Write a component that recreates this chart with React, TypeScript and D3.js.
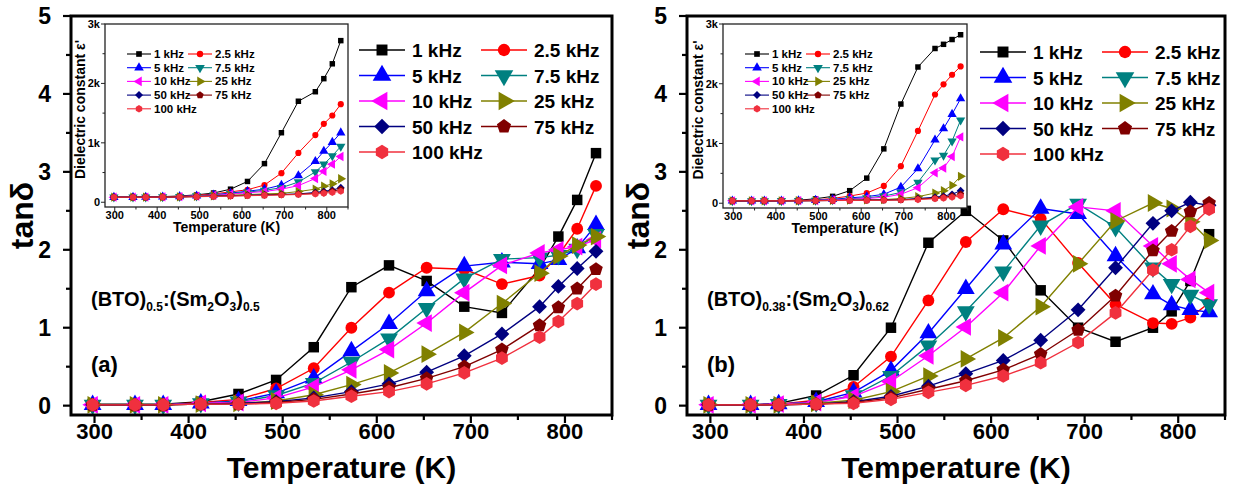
import * as d3 from 'd3';

const temperature = [298, 343, 373, 413, 453, 493, 533, 573, 613, 653, 693, 733, 773, 793, 813, 833];
const frequencies = ['1 kHz', '2.5 kHz', '5 kHz', '7.5 kHz', '10 kHz', '25 kHz', '50 kHz', '75 kHz', '100 kHz'];
const seriesColors = ['#000000', '#ff0000', '#0000ff', '#008080', '#ff00ff', '#808000', '#000080', '#800000', '#f0303e'];

// tan delta, panel (a), one row per frequency
const lossA = [
  [0.02, 0.02, 0.02, 0.05, 0.15, 0.33, 0.75, 1.52, 1.8, 1.6, 1.27, 1.19, 1.76, 2.17, 2.64, 3.24],
  [0.01, 0.01, 0.01, 0.04, 0.08, 0.22, 0.48, 1.0, 1.45, 1.77, 1.75, 1.56, 1.67, 1.93, 2.27, 2.82],
  [0.01, 0.01, 0.01, 0.03, 0.06, 0.16, 0.35, 0.7, 1.05, 1.47, 1.79, 1.84, 1.82, 1.87, 2.02, 2.32],
  [0.01, 0.01, 0.01, 0.03, 0.05, 0.13, 0.29, 0.56, 0.86, 1.25, 1.63, 1.88, 1.9, 1.93, 2.01, 2.2],
  [0.01, 0.01, 0.01, 0.03, 0.04, 0.1, 0.24, 0.46, 0.72, 1.06, 1.45, 1.8, 1.96, 2.0, 2.04, 2.13],
  [0.01, 0.01, 0.01, 0.02, 0.03, 0.06, 0.14, 0.27, 0.42, 0.66, 0.94, 1.31, 1.7, 1.92, 2.06, 2.17],
  [0.01, 0.01, 0.01, 0.02, 0.03, 0.05, 0.1, 0.18, 0.28, 0.43, 0.64, 0.92, 1.27, 1.53, 1.76, 1.98],
  [0.01, 0.01, 0.01, 0.02, 0.02, 0.04, 0.08, 0.15, 0.23, 0.35, 0.5, 0.72, 1.03, 1.26, 1.5, 1.75],
  [0.01, 0.01, 0.01, 0.02, 0.02, 0.03, 0.06, 0.12, 0.18, 0.28, 0.42, 0.61, 0.88, 1.08, 1.31, 1.56],
];

// tan delta, panel (b)
const lossB = [
  [0.01, 0.01, 0.03, 0.13, 0.39, 1.0, 2.09, 2.5, 2.12, 1.48, 1.0, 0.82, 1.0, 1.21, 1.6, 2.2],
  [0.01, 0.01, 0.02, 0.07, 0.24, 0.63, 1.35, 2.1, 2.52, 2.4, 1.83, 1.3, 1.06, 1.05, 1.13, 1.32],
  [0.01, 0.01, 0.02, 0.05, 0.17, 0.45, 0.93, 1.5, 2.07, 2.53, 2.46, 1.92, 1.43, 1.29, 1.23, 1.2],
  [0.01, 0.01, 0.02, 0.04, 0.13, 0.38, 0.77, 1.21, 1.72, 2.31, 2.59, 2.29, 1.77, 1.56, 1.42, 1.3],
  [0.01, 0.01, 0.02, 0.04, 0.12, 0.31, 0.64, 1.01, 1.45, 2.05, 2.55, 2.5, 2.05, 1.82, 1.62, 1.45],
  [0.01, 0.01, 0.01, 0.03, 0.07, 0.18, 0.38, 0.6, 0.87, 1.27, 1.82, 2.37, 2.6, 2.53, 2.36, 2.12],
  [0.01, 0.01, 0.01, 0.02, 0.05, 0.12, 0.25, 0.41, 0.58, 0.84, 1.23, 1.77, 2.34, 2.5, 2.61, 2.57],
  [0.01, 0.01, 0.01, 0.02, 0.04, 0.1, 0.21, 0.32, 0.46, 0.66, 0.97, 1.41, 1.99, 2.24, 2.49, 2.6],
  [0.01, 0.01, 0.01, 0.02, 0.03, 0.08, 0.17, 0.26, 0.38, 0.55, 0.81, 1.19, 1.74, 2.0, 2.3, 2.52],
];

// dielectric constant (inset), panel (a)
const epsA = [
  [85, 85, 88, 95, 105, 125, 155, 220, 350, 650, 1170, 1700, 1860, 2080, 2330, 2720],
  [85, 85, 87, 92, 100, 115, 140, 175, 210, 290, 490, 830, 1130, 1320, 1460, 1650],
  [85, 85, 86, 90, 97, 108, 125, 155, 185, 220, 290, 450, 690, 860, 1010, 1170],
  [85, 85, 86, 89, 95, 105, 120, 145, 170, 200, 245, 340, 510, 640, 780, 940],
  [85, 85, 86, 89, 94, 103, 115, 135, 160, 180, 220, 280, 400, 520, 640, 770],
  [85, 85, 85, 88, 92, 100, 108, 118, 130, 140, 150, 180, 220, 270, 310, 395],
  [85, 85, 85, 87, 90, 96, 102, 110, 118, 125, 132, 140, 165, 185, 205, 245],
  [85, 85, 85, 87, 90, 95, 100, 107, 113, 120, 128, 135, 150, 165, 185, 215],
  [85, 85, 85, 86, 89, 93, 98, 104, 110, 116, 122, 130, 140, 150, 165, 185],
];

// dielectric constant (inset), panel (b)
const epsB = [
  [40, 40, 40, 42, 50, 75, 115, 210, 420, 910, 1660, 2280, 2590, 2660, 2740, 2820],
  [40, 40, 40, 41, 46, 55, 80, 120, 170, 290, 620, 1210, 1820, 1990, 2150, 2290],
  [40, 40, 40, 41, 44, 50, 65, 90, 110, 150, 270, 580, 1060, 1250, 1490, 1750],
  [40, 40, 40, 41, 43, 48, 58, 75, 90, 120, 180, 350, 720, 800, 1040, 1390],
  [40, 40, 40, 40, 42, 46, 55, 68, 80, 100, 150, 260, 510, 590, 780, 1110],
  [40, 40, 40, 40, 41, 44, 48, 52, 56, 60, 80, 110, 170, 210, 300, 450],
  [40, 40, 40, 40, 41, 43, 46, 49, 52, 55, 60, 80, 100, 120, 150, 210],
  [40, 40, 40, 40, 41, 42, 45, 48, 50, 52, 56, 70, 85, 100, 120, 150],
  [40, 40, 40, 40, 40, 42, 44, 46, 48, 50, 53, 60, 75, 85, 100, 120],
];

const xTicks = [300, 400, 500, 600, 700, 800];
const xMinor = d3.range(300, 851, 50);
const yTicks = [0, 1, 2, 3, 4, 5];
const yMinor = d3.range(0, 5.01, 0.5);
const epsTicks = [0, 1000, 2000, 3000];
const epsTickLabels = ['0', '1k', '2k', '3k'];
const epsMinor = d3.range(0, 3001, 500);

const FONT = '"Liberation Sans", Arial, sans-serif';

const polygon = (n: number) => ({
  draw(ctx: any, size: number) {
    const r = Math.sqrt((2 * size) / (n * Math.sin((2 * Math.PI) / n)));
    for (let i = 0; i < n; i++) {
      const a = (i * 2 * Math.PI) / n;
      const x = r * Math.sin(a);
      const y = -r * Math.cos(a);
      if (i) ctx.lineTo(x, y);
      else ctx.moveTo(x, y);
    }
    ctx.closePath();
  },
});

const markers = [
  { type: d3.symbolSquare, rot: 0, k: 1 },
  { type: d3.symbolCircle, rot: 0, k: 1 },
  { type: d3.symbolTriangle, rot: 0, k: 1.25 },
  { type: d3.symbolTriangle, rot: 180, k: 1.25 },
  { type: d3.symbolTriangle, rot: -90, k: 1.25 },
  { type: d3.symbolTriangle, rot: 90, k: 1.25 },
  { type: d3.symbolSquare, rot: 45, k: 1 },
  { type: polygon(5), rot: 0, k: 1.1 },
  { type: polygon(6), rot: 0, k: 1.1 },
];

function Marker({ i, x, y, size }: { i: number; x: number; y: number; size: number }) {
  const m = markers[i];
  const d = d3.symbol().type(m.type as any).size(size * m.k)() as string;
  return <path d={d} transform={`translate(${x},${y}) rotate(${m.rot})`} fill={seriesColors[i]} />;
}

type PanelProps = {
  frame: { x0: number; x1: number; y0: number; y1: number };
  inset: { x0: number; x1: number; y0: number; y1: number; xDom: [number, number] };
  loss: number[][];
  eps: number[][];
  legendX: number;
  legendY: number;
  letter: string;
  comp: [string, string];
};

function Panel({ frame, inset, loss, eps, legendX, legendY, letter, comp }: PanelProps) {
  const x = d3.scaleLinear().domain([275, 850]).range([frame.x0, frame.x1]);
  const y = d3.scaleLinear().domain([-0.12, 5]).range([frame.y1, frame.y0]);
  const ix = d3.scaleLinear().domain(inset.xDom).range([inset.x0, inset.x1]);
  const iy = d3.scaleLinear().domain([-80, 3000]).range([inset.y1, inset.y0]);
  const line = d3.line<number>().x((_, j) => x(temperature[j])).y((v) => y(v));
  const iline = d3.line<number>().x((_, j) => ix(temperature[j])).y((v) => iy(v));
  const cx = (frame.x0 + frame.x1) / 2;
  const cy = (frame.y0 + frame.y1) / 2;
  const icx = (inset.x0 + inset.x1) / 2;

  return (
    <g fontFamily={FONT} fontWeight="bold">
      {/* main axes */}
      {xMinor.map((t) => (
        <line key={'xm' + t} x1={x(t)} x2={x(t)} y1={frame.y1} y2={frame.y1 + (t % 100 === 0 ? 8 : 5)} stroke="#000" strokeWidth={2.2} />
      ))}
      {xTicks.map((t) => (
        <text key={'xt' + t} x={x(t)} y={frame.y1 + 24} fontSize={22} textAnchor="middle">{t}</text>
      ))}
      {yMinor.map((t) => (
        <line key={'ym' + t} x1={frame.x0 - (t % 1 === 0 ? 8 : 5)} x2={frame.x0} y1={y(t)} y2={y(t)} stroke="#000" strokeWidth={2.2} />
      ))}
      {yTicks.map((t) => (
        <text key={'yt' + t} x={frame.x0 - 20} y={y(t) + 8} fontSize={23} textAnchor="end">{t}</text>
      ))}
      <text x={cx} y={478} fontSize={30} textAnchor="middle">Temperature (K)</text>
      <text transform={`translate(${frame.x0 - 38},${cy}) rotate(-90)`} fontSize={32} textAnchor="middle">tanδ</text>

      {/* annotations */}
      <text x={frame.x0 + 20} y={306} fontSize={20}>
        (BTO)<tspan fontSize={12} dy={5}>{comp[0]}</tspan>
        <tspan dy={-5}>:(Sm</tspan><tspan fontSize={12} dy={5}>2</tspan>
        <tspan dy={-5}>O</tspan><tspan fontSize={12} dy={5}>3</tspan>
        <tspan dy={-5}>)</tspan><tspan fontSize={12} dy={5}>{comp[1]}</tspan>
      </text>
      <text x={frame.x0 + 20} y={372} fontSize={22}>{letter}</text>

      {/* main series */}
      {loss.map((s, i) => (
        <g key={'s' + i}>
          <path d={line(s) as string} fill="none" stroke={seriesColors[i]} strokeWidth={1.4} />
          {s.map((v, j) => (
            <Marker key={j} i={i} x={x(temperature[j])} y={y(v)} size={110} />
          ))}
        </g>
      ))}

      {/* main legend */}
      {frequencies.map((f, i) => {
        const lx = legendX + (i % 2) * 122;
        const ly = legendY + Math.floor(i / 2) * 25.5;
        return (
          <g key={'lg' + i}>
            <line x1={lx} x2={lx + 46} y1={ly} y2={ly} stroke={seriesColors[i]} strokeWidth={1.6} />
            <Marker i={i} x={lx + 23} y={ly} size={120} />
            <text x={lx + 53} y={ly + 7} fontSize={19}>{f}</text>
          </g>
        );
      })}

      {/* inset */}
      <rect x={inset.x0} y={inset.y0} width={inset.x1 - inset.x0} height={inset.y1 - inset.y0} fill="#fff" stroke="#222" strokeWidth={1.3} />
      {xMinor.map((t) => (
        <line key={'ixm' + t} x1={ix(t)} x2={ix(t)} y1={inset.y1} y2={inset.y1 + (t % 100 === 0 ? 4 : 2.5)} stroke="#222" strokeWidth={1} />
      ))}
      {xTicks.map((t) => (
        <text key={'ixt' + t} x={ix(t)} y={inset.y1 + 12} fontSize={11} textAnchor="middle">{t}</text>
      ))}
      {epsMinor.map((t) => (
        <line key={'iym' + t} x1={inset.x0 - (t % 1000 === 0 ? 4 : 2.5)} x2={inset.x0} y1={iy(t)} y2={iy(t)} stroke="#222" strokeWidth={1} />
      ))}
      {epsTicks.map((t, k) => (
        <text key={'iyt' + t} x={inset.x0 - 5} y={iy(t) + 4} fontSize={11} textAnchor="end">{epsTickLabels[k]}</text>
      ))}
      <text x={icx} y={inset.y1 + 25} fontSize={14} textAnchor="middle">Temperature (K)</text>
      <text transform={`translate(${inset.x0 - 20},${(inset.y0 + inset.y1) / 2 - 6}) rotate(-90)`} fontSize={14} textAnchor="middle">
        Dielectric constant ε'
      </text>
      {eps.map((s, i) => (
        <g key={'e' + i}>
          <path d={iline(s) as string} fill="none" stroke={seriesColors[i]} strokeWidth={1} />
          {s.map((v, j) => (
            <Marker key={j} i={i} x={ix(temperature[j])} y={iy(v)} size={30} />
          ))}
        </g>
      ))}
      {frequencies.map((f, i) => {
        const lx = inset.x0 + 22 + (i % 2) * 61;
        const ly = inset.y0 + 30 + Math.floor(i / 2) * 13.7;
        return (
          <g key={'ilg' + i}>
            <line x1={lx} x2={lx + 24} y1={ly} y2={ly} stroke={seriesColors[i]} strokeWidth={1.1} />
            <Marker i={i} x={lx + 12} y={ly} size={32} />
            <text x={lx + 27} y={ly + 4} fontSize={11.5}>{f}</text>
          </g>
        );
      })}

      {/* frame */}
      <rect x={frame.x0} y={frame.y0} width={frame.x1 - frame.x0} height={frame.y1 - frame.y0} fill="none" stroke="#000" strokeWidth={3} />
    </g>
  );
}

export default function App() {
  return (
    <svg width={1234} height={490} style={{ position: 'absolute', left: 0, top: 0, background: '#fff' }}>
      <Panel
        frame={{ x0: 71, x1: 612, y0: 16, y1: 415 }}
        inset={{ x0: 105, x1: 348, y0: 24, y1: 207, xDom: [277, 850] }}
        loss={lossA}
        eps={epsA}
        legendX={359}
        legendY={50}
        letter="(a)"
        comp={['0.5', '0.5']}
      />
      <Panel
        frame={{ x0: 687, x1: 1225, y0: 16, y1: 415 }}
        inset={{ x0: 723, x1: 967, y0: 24, y1: 208, xDom: [276, 848] }}
        loss={lossB}
        eps={epsB}
        legendX={980}
        legendY={52}
        letter="(b)"
        comp={['0.38', '0.62']}
      />
    </svg>
  );
}
